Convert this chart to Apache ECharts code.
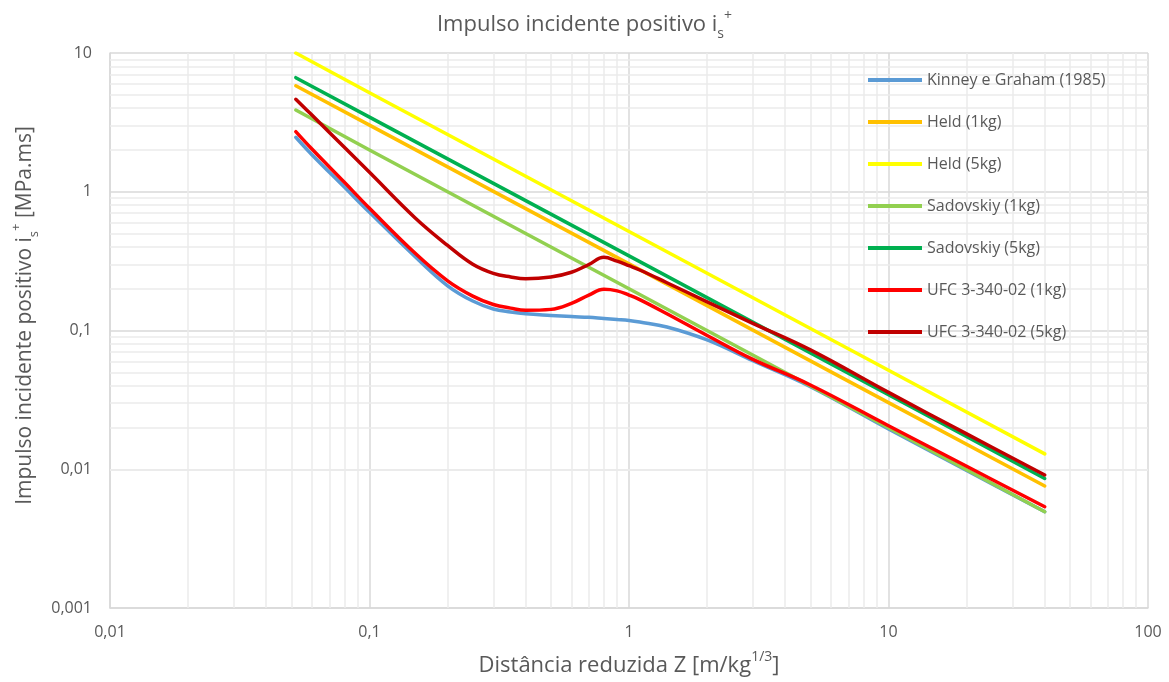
<!DOCTYPE html>
<html>
<head>
<meta charset="utf-8">
<script src="https://cdn.jsdelivr.net/npm/echarts@6/dist/echarts.min.js"></script>
<style>
html,body{margin:0;padding:0;background:#fff;}
#chart{width:1169px;height:682px;}
</style>
</head>
<body>
<div id="chart"></div>
<script>
// ---- data ----
const zCurve = [0.052, 0.06, 0.08, 0.1, 0.15, 0.2, 0.25, 0.3, 0.35, 0.4, 0.5, 0.6, 0.7, 0.8, 0.9, 1, 1.1, 1.4, 2, 3, 5, 10, 20, 40];
const kinney = [2.47, 1.85, 1.08, 0.711, 0.34, 0.21, 0.163, 0.143, 0.136, 0.132, 0.1285, 0.126, 0.1245, 0.122, 0.120, 0.118, 0.115, 0.106, 0.0855, 0.0606, 0.0394, 0.0195, 0.0098, 0.00494];
const ufc1kg = [2.71, 2.03, 1.17, 0.76, 0.36, 0.228, 0.177, 0.154, 0.145, 0.140, 0.142, 0.157, 0.180, 0.198, 0.193, 0.180, 0.167, 0.132, 0.092, 0.0619, 0.0405, 0.0206, 0.0105, 0.00537];
const ufc5kg = [4.64, 3.57, 2.09, 1.38, 0.647, 0.41, 0.30, 0.258, 0.243, 0.236, 0.243, 0.263, 0.299, 0.337, 0.316, 0.293, 0.273, 0.221, 0.161, 0.1127, 0.0725, 0.0358, 0.018, 0.0091];

const zLine = [0.052, 0.1, 1, 10, 40];
const held1kg = [5.81, 3.02, 0.302, 0.0302, 0.00757];
const held5kg = [10.0, 5.17, 0.517, 0.0517, 0.0129];
const sad1kg = [3.88, 2.0, 0.2, 0.0199, 0.00494];
const sad5kg = [6.64, 3.45, 0.345, 0.0344, 0.00858];

const seriesNames = ['Kinney e Graham (1985)', 'Held (1kg)', 'Held (5kg)', 'Sadovskiy (1kg)', 'Sadovskiy (5kg)', 'UFC 3-340-02 (1kg)', 'UFC 3-340-02 (5kg)'];
const seriesColors = ['#5B9BD5', '#FFC000', '#FFFF00', '#92D050', '#00B050', '#FF0000', '#C00000'];
const seriesCurved = [true, false, false, false, false, true, true];

const xMajorTicks = [0.01, 0.1, 1, 10, 100];
const yMajorTicks = [0.001, 0.01, 0.1, 1, 10];
const minorMultipliers = [2, 3, 4, 5, 6, 7, 8, 9];

// ---- build ----
const FONT = '"Open Sans", "Noto Sans", sans-serif';
const TXT = '#595959';

function pairs(xs, ys) { return xs.map((x, i) => [x, ys[i]]); }
function minorValues(majors) {
  const out = [];
  for (let i = 0; i < majors.length - 1; i++) {
    minorMultipliers.forEach(m => out.push(Number((majors[i] * m).toPrecision(3))));
  }
  return out;
}
function fmt(v) {
  return String(Number(v.toPrecision(3))).replace('.', ',');
}

const seriesData = [
  pairs(zCurve, kinney),
  pairs(zLine, held1kg),
  pairs(zLine, held5kg),
  pairs(zLine, sad1kg),
  pairs(zLine, sad5kg),
  pairs(zCurve, ufc1kg),
  pairs(zCurve, ufc5kg)
];

const minorGrid = {
  type: 'line', name: '__grid', data: [], z: 1, silent: true, animation: false,
  markLine: {
    z: 1, zlevel: 0,
    silent: true, symbol: ['none', 'none'], animation: false,
    label: { show: false },
    lineStyle: { color: '#ebebeb', width: 1.5, type: 'solid' },
    emphasis: { disabled: true },
    data: minorValues(xMajorTicks).map(v => ({ xAxis: v })).concat(minorValues(yMajorTicks).map(v => ({ yAxis: v })))
  }
};

const dataSeries = seriesNames.map((n, i) => ({
  name: n, type: 'line', data: seriesData[i], z: 3,
  showSymbol: false, symbol: 'none', smooth: seriesCurved[i] ? 0.4 : false,
  lineStyle: { color: seriesColors[i], width: 3.5, cap: 'round', join: 'round' },
  itemStyle: { color: seriesColors[i] },
  animation: false
}));

const richBase = (size) => ({
  a: { fontSize: size, fontWeight: 'normal', color: TXT, fontFamily: FONT, lineHeight: size + 10, verticalAlign: 'middle' },
  b: { fontSize: Math.round(size * 0.62), fontWeight: 'normal', color: TXT, fontFamily: FONT, lineHeight: Math.round(size * 0.62), verticalAlign: 'bottom' },
  c: { fontSize: Math.round(size * 0.62), fontWeight: 'normal', color: TXT, fontFamily: FONT, lineHeight: Math.round(size * 0.62) + 5, verticalAlign: 'top' }
});

const chart = echarts.init(document.getElementById('chart'), null, { renderer: 'canvas' });
chart.setOption({
  animation: false,
  backgroundColor: '#ffffff',
  title: {
    text: '{a|Impulso incidente positivo i}{b|s}{c|+}',
    left: 'center', top: 4,
    textStyle: { fontWeight: 'normal', rich: richBase(22) }
  },
  grid: { left: 110, right: 21, top: 53, bottom: 74, containLabel: false },
  legend: {
    data: seriesNames, z: 20, padding: 0,
    orient: 'vertical', left: 868, top: 70,
    icon: 'rect', itemWidth: 54, itemHeight: 4, itemGap: 22,
    textStyle: { color: TXT, fontFamily: FONT, fontSize: 16, lineHeight: 20 },
    selectedMode: false
  },
  xAxis: {
    type: 'log', logBase: 10, min: 0.01, max: 100,
    name: '{a|Distância reduzida Z [m/kg}{c|1/3}{a|]}',
    nameLocation: 'middle', nameGap: 42,
    nameTextStyle: { rich: richBase(22) },
    axisLine: { show: true, lineStyle: { color: '#d9d9d9', width: 1.5 } },
    axisTick: { show: false },
    axisLabel: { color: TXT, fontFamily: FONT, fontSize: 16, margin: 16, formatter: fmt },
    splitLine: { show: true, lineStyle: { color: '#d9d9d9', width: 1.5 } },
    minorSplitLine: { show: false }
  },
  yAxis: {
    type: 'log', logBase: 10, min: 0.001, max: 10,
    name: '{a|Impulso incidente positivo i}{b|s}{c|+}{a| [MPa.ms]}',
    nameLocation: 'middle', nameGap: 64,
    nameTextStyle: { rich: richBase(21), padding: [0, 0, 0, 30] },
    axisLine: { show: true, lineStyle: { color: '#d9d9d9', width: 1.5 } },
    axisTick: { show: false },
    axisLabel: { color: TXT, fontFamily: FONT, fontSize: 16, margin: 18, formatter: fmt },
    splitLine: { show: true, lineStyle: { color: '#d9d9d9', width: 1.5 } }
  },
  series: [minorGrid].concat(dataSeries)
});
</script>
</body>
</html>
